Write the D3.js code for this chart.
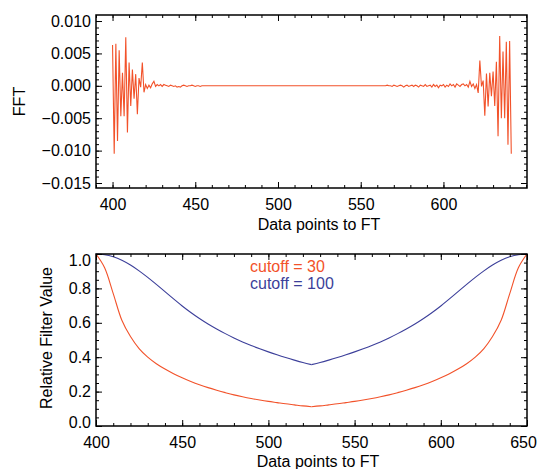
<!DOCTYPE html>
<html>
<head>
<meta charset="utf-8">
<script src="https://cdn.jsdelivr.net/npm/d3@7"></script>
<style>
  body { margin: 0; background: #fff; }
  svg text { font-family: "Liberation Sans", Arial, sans-serif; font-size: 16px; fill: #000; }
  .axis path { display: none; }
  .axis line { stroke: #000; stroke-width: 1; }
</style>
</head>
<body>
<svg width="539" height="469"></svg>
<script>
// top panel: FFT of the data points, one value per index starting at 400
var fftStart = 400;
var fftValues = [
  0.0063, -0.0105, 0.0065, -0.0085, 0.0055, -0.0047, 0.0020, -0.0047, 0.0075, -0.0072,
  0.0036, -0.0031, 0.0025, -0.0020, 0.0018, -0.0044, 0.0012, -0.0002, 0.0036, -0.0010,
  0.0002, -0.0004, 0.0001, -0.0003, 0.0003, 0.0007, -0.0001, 0.0002, 0.0000, 0.0002,
  -0.0001, 0.0002, 0.0001, 0.0000, -0.0001, 0.0001, 0.0000, -0.0001, 0.0000, -0.0002,
  -0.0001, -0.0002, 0.0000, 0.0001, 0.0000, -0.0001, 0.0000, 0.0000, 0.0001, 0.0000,
  -0.0001, 0.0000, 0.0000, -0.0001, 0.0000, 0.0000, 0.0000, 0.0000, 0.0000, 0.0000,
  0, 0, 0, 0, 0, 0, 0, 0, 0, 0,
  0, 0, 0, 0, 0, 0, 0, 0, 0, 0,
  0, 0, 0, 0, 0, 0, 0, 0, 0, 0,
  0, 0, 0, 0, 0, 0, 0, 0, 0, 0,
  0, 0, 0, 0, 0, 0, 0, 0, 0, 0,
  0, 0, 0, 0, 0, 0, 0, 0, 0, 0,
  0, 0, 0, 0, 0, 0, 0, 0, 0, 0,
  0, 0, 0, 0, 0, 0, 0, 0, 0, 0,
  0, 0, 0, 0, 0, 0, 0, 0, 0, 0,
  0, 0, 0, 0, 0, 0, 0, 0, 0, 0,
  0, 0, 0, 0, 0, 0, 0.0001, 0, 0, -0.0001,
  0.0001, 0, -0.0001, 0, 0.0001, 0, -0.0002, 0, 0.0001, -0.0001,
  0, 0.0001, -0.0001, 0.0001, 0, -0.0002, 0.0001, 0, -0.0001, 0.0002,
  -0.0001, 0, 0.0001, -0.0002, 0.0002, -0.0001, 0.0001, -0.0003, 0.0001, 0,
  0.0002, -0.0002, 0.0001, -0.0001, 0.0003, 0, 0.0002, -0.0002, 0.0003, 0.0001,
  -0.0001, 0.0002, 0.0003, 0, 0.0002, -0.0002, 0.0007, -0.0001, 0.0003, -0.0004,
  0.0002, -0.0011, 0.0039, -0.0001, 0.0008, -0.0046, 0.0019, -0.0032, 0.0020, -0.0016,
  0.0022, -0.0031, 0.0037, -0.0078, 0.0077, -0.0050, 0.0053, -0.0050, 0.0068, -0.0091,
  0.0069, -0.0105
];
var fftXTicks = [400, 450, 500, 550, 600];
var fftYTicks = [-0.015, -0.010, -0.005, 0.000, 0.005, 0.010];

// bottom panel: filter curves
var filterX = [400, 405, 410, 415, 420, 425, 430, 435, 440, 445, 450, 455, 460, 465, 470,
  475, 480, 485, 490, 495, 500, 505, 510, 515, 520, 525, 530, 535, 540, 545, 550, 555,
  560, 565, 570, 575, 580, 585, 590, 595, 600, 605, 610, 615, 620, 625, 630, 635, 640, 645, 650];
var cutoff30 = [1.0, 0.92, 0.77, 0.615, 0.52, 0.45, 0.4, 0.362, 0.331, 0.304, 0.28, 0.259,
  0.24, 0.223, 0.208, 0.194, 0.181, 0.17, 0.16, 0.151, 0.143, 0.136, 0.129, 0.123, 0.117,
  0.112, 0.117, 0.123, 0.129, 0.136, 0.143, 0.151, 0.16, 0.17, 0.181, 0.194, 0.208, 0.223,
  0.24, 0.259, 0.28, 0.304, 0.331, 0.362, 0.4, 0.45, 0.52, 0.615, 0.77, 0.92, 1.0];
var cutoff100 = [1.0, 0.996, 0.984, 0.964, 0.936, 0.902, 0.864, 0.823, 0.781, 0.739, 0.698,
  0.66, 0.625, 0.593, 0.564, 0.537, 0.512, 0.489, 0.468, 0.449, 0.431, 0.414, 0.398, 0.383,
  0.369, 0.357, 0.369, 0.383, 0.398, 0.414, 0.431, 0.449, 0.468, 0.489, 0.512, 0.537, 0.564,
  0.593, 0.625, 0.66, 0.698, 0.739, 0.781, 0.823, 0.864, 0.902, 0.936, 0.964, 0.984, 0.996, 1.0];
var filterXTicks = [400, 450, 500, 550, 600, 650];
var filterYTicks = [0.0, 0.2, 0.4, 0.6, 0.8, 1.0];

var red = "#f2522a", blue = "#3c3f9a";

var svg = d3.select("svg");

// draws the IDL style box: ticks inside on all four sides
function box(g, x, y, xt, xm, yt, ym, xf, yf) {
  var w = x.range()[1] - x.range()[0],
      h = y.range()[0] - y.range()[1];
  g.append("g").attr("class", "axis").attr("transform", "translate(0," + h + ")")
      .call(d3.axisBottom(x).tickValues(xm).tickSizeInner(-3).tickSizeOuter(0).tickFormat(""));
  g.append("g").attr("class", "axis").attr("transform", "translate(0," + h + ")")
      .call(d3.axisBottom(x).tickValues(xt).tickSizeInner(-6).tickSizeOuter(0).tickPadding(11).tickFormat(xf));
  g.append("g").attr("class", "axis")
      .call(d3.axisTop(x).tickValues(xm).tickSizeInner(-3).tickSizeOuter(0).tickFormat(""));
  g.append("g").attr("class", "axis")
      .call(d3.axisTop(x).tickValues(xt).tickSizeInner(-6).tickSizeOuter(0).tickFormat(""));
  g.append("g").attr("class", "axis")
      .call(d3.axisLeft(y).tickValues(ym).tickSizeInner(-3).tickSizeOuter(0).tickFormat(""));
  g.append("g").attr("class", "axis")
      .call(d3.axisLeft(y).tickValues(yt).tickSizeInner(-6).tickSizeOuter(0).tickPadding(5).tickFormat(yf));
  g.append("g").attr("class", "axis").attr("transform", "translate(" + w + ",0)")
      .call(d3.axisRight(y).tickValues(ym).tickSizeInner(-3).tickSizeOuter(0).tickFormat(""));
  g.append("g").attr("class", "axis").attr("transform", "translate(" + w + ",0)")
      .call(d3.axisRight(y).tickValues(yt).tickSizeInner(-6).tickSizeOuter(0).tickFormat(""));
  g.append("rect")
      .attr("width", w).attr("height", h)
      .style("fill", "none").style("stroke", "#000").style("stroke-width", 1.5);
  g.selectAll(".tick text").style("font-size", "16px");
}

// ---- top panel
var x1 = d3.scaleLinear().domain([390, 650.5]).range([0, 431]),
    y1 = d3.scaleLinear().domain([-0.01577, 0.01093]).range([173, 0]);
var g1 = svg.append("g").attr("transform", "translate(96,15)");

var line1 = d3.line()
    .x(function(d, i) { return x1(fftStart + i); })
    .y(function(d) { return y1(d); });
g1.append("path")
    .datum(fftValues)
    .attr("d", line1)
    .style("fill", "none")
    .style("stroke", red)
    .style("stroke-width", 1.1);

box(g1, x1, y1, fftXTicks, d3.range(390, 651, 10), fftYTicks, d3.range(-15, 11).map(function(v) { return v / 1000; }),
    d3.format("d"), d3.format(".3f"));

g1.append("text")
    .attr("transform", "translate(-71," + 86.5 + ") rotate(-90)")
    .attr("text-anchor", "middle")
    .text("FFT");
g1.append("text")
    .attr("x", 223).attr("y", 215)
    .attr("text-anchor", "middle")
    .text("Data points to FT");

// ---- bottom panel
var x2 = d3.scaleLinear().domain([400, 650]).range([0, 431]),
    y2 = d3.scaleLinear().domain([0, 1]).range([172, 0]);
var g2 = svg.append("g").attr("transform", "translate(96,254)");

// each half is smooth, the two halves meet in a corner at 525
var line2 = d3.line()
    .x(function(d) { return x2(d[0]); })
    .y(function(d) { return y2(d[1]); })
    .curve(d3.curveCatmullRom);
var mid = filterX.indexOf(525);
[[cutoff30, red], [cutoff100, blue]].forEach(function(s) {
  var pts = filterX.map(function(xv, i) { return [xv, s[0][i]]; });
  [pts.slice(0, mid + 1), pts.slice(mid)].forEach(function(half) {
    g2.append("path").datum(half).attr("d", line2)
        .style("fill", "none").style("stroke", s[1]).style("stroke-width", 1.1);
  });
});

box(g2, x2, y2, filterXTicks, d3.range(400, 651, 10), filterYTicks, d3.range(0, 21).map(function(v) { return v / 20; }),
    d3.format("d"), d3.format(".1f"));

// IDL nudges the end labels inside the box
g2.selectAll(".tick text").filter(function(d) { return d === 1.0 && this.getAttribute("x") < 0; }).attr("dy", "0.7em");
g2.selectAll(".tick text").filter(function(d) { return d === 0.0 && this.getAttribute("x") < 0; }).attr("dy", "0.1em");
g2.selectAll(".tick text").filter(function(d) { return d === 650; }).attr("dx", "-4");

g2.append("text").attr("x", 154).attr("y", 18).style("fill", red).text("cutoff = 30");
g2.append("text").attr("x", 154).attr("y", 35).style("fill", blue).text("cutoff = 100");

g2.append("text")
    .attr("transform", "translate(-44," + 84 + ") rotate(-90)")
    .attr("text-anchor", "middle")
    .text("Relative Filter Value");
g2.append("text")
    .attr("x", 222).attr("y", 213)
    .attr("text-anchor", "middle")
    .text("Data points to FT");
</script>
</body>
</html>
